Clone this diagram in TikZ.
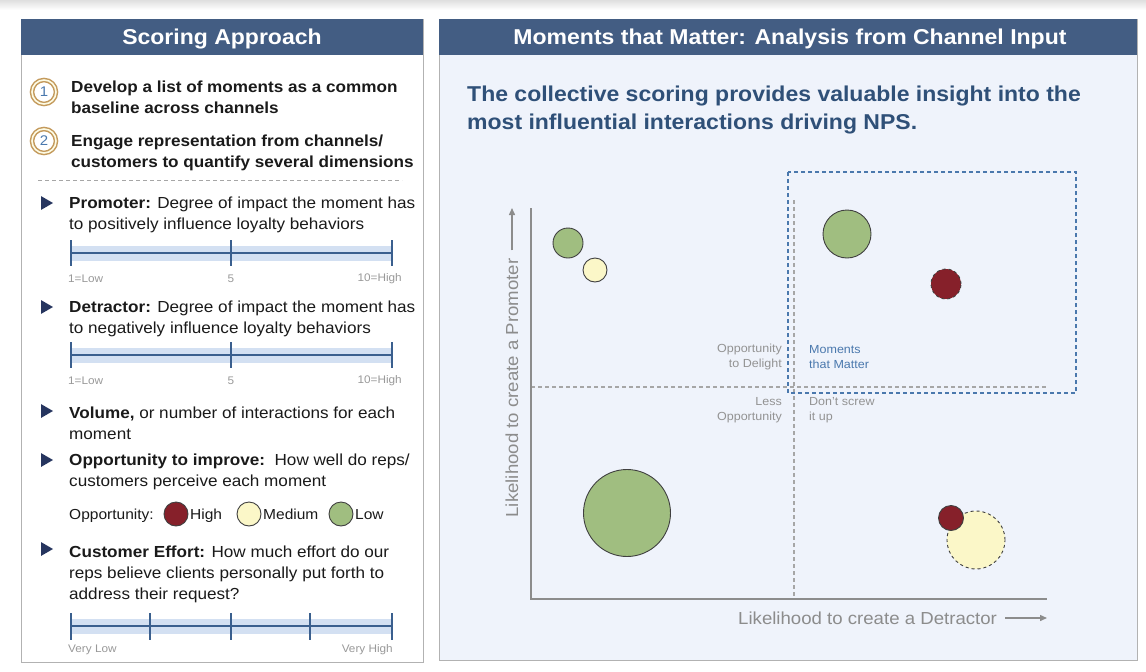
\documentclass[tikz,border=0pt]{standalone}
\usepackage{fontspec}
\setmainfont{Liberation Sans}[FakeStretch=1.07]
\usetikzlibrary{shapes.geometric, arrows.meta}

\definecolor{hdrblue}{HTML}{435D83}
\definecolor{panelbg}{HTML}{EFF3FB}
\definecolor{ink}{HTML}{1A1A1A}
\definecolor{titleblue}{HTML}{2F5078}
\definecolor{bandblue}{HTML}{D3E0F2}
\definecolor{scaleblue}{HTML}{3A5F8E}
\definecolor{bulletblue}{HTML}{26355F}
\definecolor{ringgold}{HTML}{C49A5C}
\definecolor{oppred}{HTML}{86202A}
\definecolor{oppyellow}{HTML}{FBF7C8}
\definecolor{oppgreen}{HTML}{A0BE80}
\definecolor{axisgray}{HTML}{8C8C8C}
\definecolor{mmblue}{HTML}{4A78AD}

\tikzset{
    hdr/.style={text=white, font=\bfseries\fontsize{21.5}{24}\selectfont},
    body/.style={anchor=west, align=left, text=ink, inner sep=0pt, font=\fontsize{16}{21}\selectfont},
    bold/.style={body, font=\bfseries\fontsize{16}{21}\selectfont},
    legend/.style={anchor=base west, text=ink, inner sep=0pt, font=\fontsize{14.5}{16}\selectfont},
    bullet/.style={isosceles triangle, fill=bulletblue, inner sep=0pt, minimum width=13pt, minimum height=12pt, isosceles triangle apex angle=60},
    ring/.style={circle, draw=ringgold, double=oppyellow!50, double distance=1.6pt, line width=1.5pt, minimum size=24pt, inner sep=0pt, text=mmblue, font=\fontsize{14}{14}\selectfont},
    tiny/.style={text=gray!80, inner sep=0pt, font=\fontsize{11}{12}\selectfont},
    band/.style={fill=bandblue},
    tick/.style={draw=scaleblue, line width=2.5pt},
    bubble/.style={circle, draw=black!75, line width=0.9pt, inner sep=0pt},
    quad/.style={draw=gray!70, line width=1.1pt, dash pattern=on 4pt off 3pt},
    mmbox/.style={draw=mmblue, line width=1.1pt, dash pattern=on 4pt off 3pt},
    axis/.style={draw=axisgray, line width=2pt},
    axlab/.style={text=axisgray, inner sep=0pt, font=\fontsize{17.4}{19}\selectfont},
    chartlab/.style={text=gray!85, inner sep=0pt, font=\fontsize{11.7}{15}\selectfont},
    arr/.style={draw=axisgray, line width=1.4pt, -{Triangle[length=7pt, width=6pt]}}
}

\begin{document}
\begin{tikzpicture}[x=1pt, y=-1pt]
        \useasboundingbox (0,0) rectangle (1146,672);
        \shade[top color=gray!25, bottom color=white] (0,0) rectangle (1146,10);

        % left panel
        \draw[fill=white, draw=gray!60, line width=1pt] (21,19) rectangle (423,662);
        \fill[hdrblue] (21,19) rectangle (423,55);
        \node[hdr] (lhead) at (222,39) {Scoring Approach};

        \node[ring] (r1) at (44,92) {1};
        \node[bold] (t1) at (71,97) {Develop a list of moments as a common\\baseline across channels};
        \node[ring] (r2) at (44,141) {2};
        \node[bold] (t2) at (71,153) {Engage representation from channels/\\customers to quantify several dimensions};
        \draw[quad, line width=0.8pt] (38,180) -- (402,180);

        \node[bullet] (b1) at (45,203) {};
        \node[body] (t3) at (69,215) {\textbf{Promoter:} Degree of impact the moment has\\to positively influence loyalty behaviors};
        \fill[band] (71,246) rectangle (392,261);
        \draw[tick] (71,253) -- (392,253);
        \foreach \x in {71,231,392}
            \draw[tick] (\x,240) -- (\x,266);
        \node[tiny, anchor=west] (s1a) at (68,279) {1=Low};
        \node[tiny] (s1b) at (231,279) {5};
        \node[tiny, anchor=east] (s1c) at (402,279) {10=High};

        \node[bullet] (b2) at (45,307) {};
        \node[body] (t4) at (69,319) {\textbf{Detractor:} Degree of impact the moment has\\to negatively influence loyalty behaviors};
        \fill[band] (71,348) rectangle (392,363);
        \draw[tick] (71,355) -- (392,355);
        \foreach \x in {71,231,392}
            \draw[tick] (\x,342) -- (\x,368);
        \node[tiny, anchor=west] (s2a) at (68,381) {1=Low};
        \node[tiny] (s2b) at (231,381) {5};
        \node[tiny, anchor=east] (s2c) at (402,381) {10=High};

        \node[bullet] (b3) at (45,411) {};
        \node[body] (t5) at (69,423) {\textbf{Volume,} or number of interactions for each\\moment};

        \node[bullet] (b4) at (45,460) {};
        \node[body] (t6) at (69,472) {\textbf{Opportunity to improve:}\ \ How well do reps/\\customers perceive each moment};
        \node[legend] (o0) at (69,519) {Opportunity:};
        \node[bubble, fill=oppred, minimum size=24pt] (o1) at (176,514) {};
        \node[legend] (o1t) at (190,519) {High};
        \node[bubble, fill=oppyellow, minimum size=24pt] (o2) at (249,514) {};
        \node[legend] (o2t) at (263,519) {Medium};
        \node[bubble, fill=oppgreen, minimum size=24pt] (o3) at (341,514) {};
        \node[legend] (o3t) at (355,519) {Low};

        \node[bullet] (b5) at (45,549) {};
        \node[body] (t7) at (69,574) {\textbf{Customer Effort:} How much effort do our\\reps believe clients personally put forth to\\address their request?};
        \fill[band] (71,619) rectangle (392,634);
        \draw[tick] (71,626) -- (392,626);
        \foreach \x in {71,150,231,310,392}
            \draw[tick] (\x,613) -- (\x,640);
        \node[tiny, anchor=west] (s3a) at (68,650) {Very Low};
        \node[tiny, anchor=east] (s3b) at (393,650) {Very High};

        % right panel
        \draw[fill=panelbg, draw=gray!60, line width=1pt] (439,19) rectangle (1137,660);
        \fill[hdrblue] (439,19) rectangle (1137,55);
        \node[hdr] (rhead) at (790,39) {Moments that Matter: Analysis from Channel Input};
        \node[anchor=west, align=left, inner sep=0pt, text=titleblue, font=\bfseries\fontsize{21.5}{28}\selectfont] (sub) at (467,110)
            {The collective scoring provides valuable insight into the\\most influential interactions driving NPS.};

        \draw[quad] (531,387) -- (1048,387);
        \draw[quad] (794,200) -- (794,599);
        \draw[mmbox] (788,172) rectangle (1076,393);
        \draw[axis] (531,208) -- (531,599) -- (1047,599);

        \node[chartlab, anchor=east, align=right] (q1) at (782,357) {Opportunity\\to Delight};
        \node[chartlab, anchor=east, align=right] (q2) at (782,410) {Less\\Opportunity};
        \node[chartlab, anchor=west, align=left, text=mmblue] (q3) at (809,357) {Moments\\that Matter};
        \node[chartlab, anchor=west, align=left] (q4) at (809,410) {Don't screw\\it up};

        \node[axlab, rotate=90] (ylab) at (512,388) {Likelihood to create a Promoter};
        \coordinate (ytip) at (512,208);
        \draw[arr, shorten <=8pt] (ylab.east) -- (ytip);
        \node[axlab, anchor=west] (xlab) at (738,618) {Likelihood to create a Detractor};
        \coordinate (xtip) at (1047,618);
        \draw[arr, shorten <=8pt] (xlab.east) -- (xtip);

        % moments
        \node[bubble, fill=oppgreen, minimum size=30pt] (m1) at (568,243) {};
        \node[bubble, fill=oppyellow, minimum size=24pt] (m2) at (595,270) {};
        \node[bubble, fill=oppgreen, minimum size=48pt] (m3) at (847,234) {};
        \node[bubble, fill=oppred, dashed, minimum size=30pt] (m4) at (946,284) {};
        \node[bubble, fill=oppgreen, minimum size=87pt] (m5) at (627,513) {};
        \node[bubble, fill=oppyellow, dashed, minimum size=58pt] (m6) at (976,540) {};
        \node[bubble, fill=oppred, minimum size=25pt] (m7) at (951,518) {};
\end{tikzpicture}
\end{document}
